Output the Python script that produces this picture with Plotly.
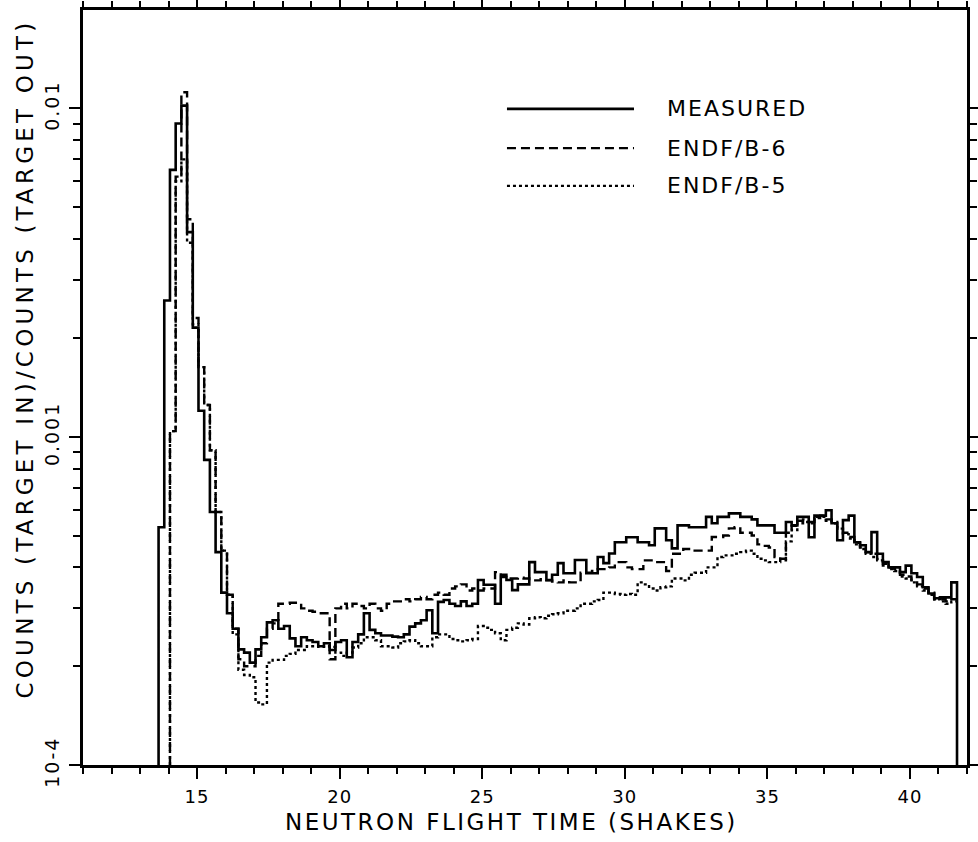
import plotly.graph_objects as go

# ---------------- data (histogram bins, values in units of 1e-4) ----------------
BIN_START = 13.65      # shakes, left edge of first bin
BIN_WIDTH = 0.2        # shakes
UNIT = 1e-4
Y_FLOOR = 1e-4         # histogram baseline (bottom of axis)

measured = [
    5.3, 26, 65, 90, 102, 42, 21.5, 12, 8.5, 5.9,
    4.45, 3.35, 2.9, 2.6, 2.25, 2.2, 2.05, 2.25, 2.45, 2.72,
    2.76, 2.6, 2.65, 2.43, 2.3, 2.45, 2.4, 2.37, 2.3, 2.35,
    2.24, 2.37, 2.4, 2.13, 2.37, 2.5, 2.9, 2.58, 2.52, 2.48,
    2.48, 2.46, 2.45, 2.5, 2.64, 2.7, 2.76, 2.96, 2.52, 3.14,
    3.18, 3.1, 3.05, 3.15, 3.05, 3.1, 3.66, 3.54, 3.54, 3.1,
    3.74, 3.66, 3.41, 3.55, 3.55, 4.15, 3.87, 3.87, 3.66, 3.8,
    4.12, 3.84, 3.84, 4.21, 4.21, 3.84, 3.84, 4.3, 4.12, 4.41,
    4.77, 4.77, 4.94, 4.94, 4.77, 4.77, 4.67, 5.26, 5.26, 4.84,
    4.57, 5.37, 5.37, 5.3, 5.3, 5.3, 5.7, 5.45, 5.7, 5.7,
    5.84, 5.84, 5.7, 5.7, 5.6, 5.37, 5.37, 5.37, 5.1, 5.1,
    5.5, 5.37, 5.7, 5.7, 4.94, 5.75, 5.75, 5.97, 5.45, 4.84,
    5.57, 5.75, 4.77, 4.67, 4.45, 5.12, 4.4, 4.15, 4.0, 4.0,
    3.87, 4.05, 3.84, 3.74, 3.48, 3.33, 3.22, 3.24, 3.24, 3.6,
]

endf_b6 = [
    None, None, 10.4, 62, 112, 46, 23, 16.3, 12.5, 9.1,
    5.9, 4.5, 3.3, 2.6, 2.1, 2.0, 2.0, 2.15, 2.35, 2.6,
    2.7, 3.1, 3.1, 3.12, 3.12, 3.0, 2.95, 2.93, 2.9, 2.9,
    2.1, 3.0, 3.1, 3.0, 3.1, 3.05, 3.0, 3.1, 3.0, 2.95,
    3.1, 3.15, 3.15, 3.2, 3.15, 3.2, 3.25, 3.2, 3.3, 3.35,
    3.3, 3.45, 3.5, 3.55, 3.4, 3.45, 3.4, 3.45, 3.45, 3.87,
    3.8, 3.7, 3.7, 3.72, 3.7, 3.65, 3.65, 3.68, 3.65, 3.62,
    3.6, 3.65, 3.6, 3.6, 3.85, 3.85, 3.9, 3.95, 3.95, 4.0,
    4.15, 4.15, 4.0, 3.95, 3.95, 4.2, 4.2, 4.15, 4.15, 3.9,
    4.4, 4.4, 4.55, 4.55, 4.5, 4.5, 4.5, 4.95, 4.95, 5.0,
    5.26, 5.3, 5.1, 5.1, 5.0, 4.7, 4.65, 4.6, 4.3, 4.25,
    5.1, 5.35, 5.55, 5.6, 5.5, 5.7, 5.75, 5.6, 5.5, 5.2,
    5.1, 4.95, 4.75, 4.6, 4.45, 4.4, 4.25, 4.1, 4.0, 3.95,
    3.8, 3.75, 3.65, 3.55, 3.45, 3.35, 3.2, 3.2, 3.15, 3.2,
]

endf_b5 = [
    None, None, 10.4, 60, 70, 39, 22, 16.3, 12.5, 9.1,
    5.9, 4.5, 3.3, 2.5, 1.95, 1.88, 1.85, 1.55, 1.53, 2.05,
    2.09, 2.09, 2.15, 2.18, 2.24, 2.24, 2.3, 2.3, 2.29, 2.3,
    2.29, 2.2, 2.15, 2.2, 2.28, 2.35, 2.45, 2.45, 2.4, 2.3,
    2.3, 2.28, 2.35, 2.38, 2.4, 2.35, 2.3, 2.3, 2.45, 2.5,
    2.5, 2.42, 2.4, 2.38, 2.4, 2.42, 2.65, 2.62, 2.58, 2.52,
    2.4, 2.58, 2.62, 2.7, 2.68, 2.8, 2.82, 2.8, 2.85, 2.88,
    2.9, 2.95, 2.95, 3.0, 3.1, 3.1, 3.15, 3.18, 3.35, 3.35,
    3.32, 3.3, 3.32, 3.3, 3.6, 3.55, 3.45, 3.4, 3.48, 3.5,
    3.7, 3.7, 3.65, 3.8, 3.85, 3.85, 4.0, 4.0, 4.3, 4.35,
    4.35, 4.4, 4.45, 4.5, 4.4, 4.25, 4.2, 4.15, 4.15, 4.2,
    4.8, 5.2, 5.45, 5.5, 5.45, 5.65, 5.7, 5.55, 5.45, 5.25,
    5.05, 4.9, 4.7, 4.55, 4.4, 4.3, 4.2, 4.05, 3.95, 3.9,
    3.75, 3.7, 3.6, 3.5, 3.4, 3.3, 3.2, 3.15, 3.1, 3.15,
]

series_names = ["MEASURED", "ENDF/B-6", "ENDF/B-5"]

x_range = [11, 42]
x_major = [15, 20, 25, 30, 35, 40]
x_minor = [v for v in range(11, 43) if v not in x_major]
y_range_log = [-4, -1.70]
y_major = [1e-4, 1e-3, 1e-2]
y_major_text = ["10-4", "0.001", "0.01"]
y_minor = [m * d for d in (1e-4, 1e-3) for m in range(2, 10)] + [2e-2]

x_title = "NEUTRON FLIGHT TIME (SHAKES)"
y_title = "COUNTS (TARGET IN)/COUNTS (TARGET OUT)"

FONT = "DejaVu Sans"


def spaced(text, px):
    return '<span style="letter-spacing:%spx">%s</span>' % (px, text)


def step_xy(values, drop_end):
    first = next(i for i, v in enumerate(values) if v is not None)
    xs = [BIN_START + BIN_WIDTH * first]
    ys = [Y_FLOOR]
    for i in range(first, len(values)):
        xs.append(BIN_START + BIN_WIDTH * i)
        ys.append(values[i] * UNIT)
    end = BIN_START + BIN_WIDTH * len(values)
    xs.append(end)
    ys.append(values[-1] * UNIT)
    if drop_end:
        xs.append(end)
        ys.append(Y_FLOOR)
    return xs, ys


styles = [
    dict(dash="solid", width=2.6),
    dict(dash="9px,5px", width=2.4),
    dict(dash="3px,3px", width=2.4),
]

fig = go.Figure()
for vals, name, st, drop in zip([measured, endf_b6, endf_b5], series_names, styles,
                                [True, False, False]):
    xs, ys = step_xy(vals, drop)
    fig.add_trace(go.Scatter(
        x=xs, y=ys, mode="lines", name=name, line_shape="hv",
        line=dict(color="black", width=st["width"], dash=st["dash"]),
        showlegend=False, hoverinfo="skip",
    ))

# legend drawn as long line samples + labels, like the original plot
legend_y = [0.869, 0.817, 0.767]
for name, st, ly in zip(series_names, styles, legend_y):
    fig.add_shape(type="line", xref="paper", yref="paper",
                  x0=0.4796, x1=0.6233, y0=ly, y1=ly,
                  line=dict(color="black", width=st["width"], dash=st["dash"]))
    fig.add_annotation(xref="paper", yref="paper", x=0.6584, y=ly,
                       xanchor="left", yanchor="middle", showarrow=False,
                       text=spaced(name, 2),
                       font=dict(family=FONT, size=22, color="black"))

# axis titles
fig.add_annotation(xref="paper", yref="paper", x=0.485, y=-0.0755,
                   xanchor="center", yanchor="middle", showarrow=False,
                   text=spaced(x_title, 2.5),
                   font=dict(family=FONT, size=23, color="black"))
fig.add_annotation(xref="paper", yref="paper", x=-0.066, y=0.538,
                   xanchor="center", yanchor="middle", showarrow=False,
                   textangle=-90, text=spaced(y_title, 4.2),
                   font=dict(family=FONT, size=23, color="black"))

axis_common = dict(
    showline=True, linecolor="black", linewidth=2.6, mirror="ticks",
    ticks="outside", tickcolor="black", tickwidth=2, showgrid=False,
    zeroline=False, automargin=False,
)

fig.update_xaxes(
    range=x_range, tickvals=x_major,
    ticktext=[spaced(str(v), 1) for v in x_major], ticklen=11,
    minor=dict(tickvals=x_minor, ticks="outside", ticklen=6, tickwidth=2,
               tickcolor="black", showgrid=False),
    ticklabelstandoff=3,
    tickfont=dict(family=FONT, size=18, color="black"),
    **axis_common,
)
fig.update_yaxes(
    type="log", range=y_range_log, tickvals=y_major,
    ticktext=[spaced(t, 2) for t in y_major_text],
    tickangle=-90, ticklen=11,
    minor=dict(tickvals=y_minor, ticks="outside", ticklen=7, tickwidth=2,
               tickcolor="black", showgrid=False),
    ticklabelstandoff=3,
    tickfont=dict(family=FONT, size=19, color="black"),
    **axis_common,
)

fig.update_layout(
    width=978, height=842,
    margin=dict(l=83, r=11, t=10, b=77),
    paper_bgcolor="white", plot_bgcolor="white",
    font=dict(family=FONT, color="black"),
)

# remove the page's default body margin so the figure fills the window exactly
fig.write_html(
    "out.html",
    config={"displayModeBar": False},
    post_script="document.body.style.margin='0';document.body.style.overflow='hidden';",
)
